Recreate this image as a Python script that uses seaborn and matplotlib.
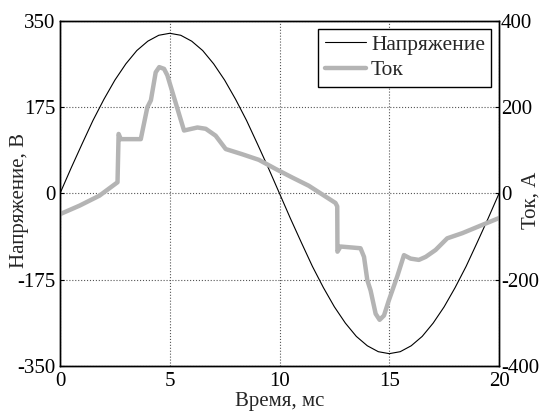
import matplotlib
matplotlib.use("Agg")
import matplotlib.pyplot as plt
import pandas as pd
import seaborn as sns

# Напряжение сети, отсчёты через 0.5 мс
t_voltage = [i * 0.5 for i in range(41)]
voltage = [0, 51, 100, 148, 191, 230, 263, 290, 309, 321,
           325, 321, 309, 290, 263, 230, 191, 148, 100, 51,
           0, -51, -100, -148, -191, -230, -263, -290, -309, -321,
           -325, -321, -309, -290, -263, -230, -191, -148, -100, -51, 0]

# Ток
t_current = [0, 0.9, 1.8, 2.62, 2.67, 2.77, 3.68, 3.98, 4.14, 4.36, 4.52,
             4.74, 4.89, 5.65, 6.26, 6.64, 7.09, 7.55, 8.30, 9.06, 9.82,
             10.58, 11.33, 12.55, 12.63, 12.64, 12.78, 13.69, 13.85, 14.0,
             14.15, 14.38, 14.56, 14.76, 14.98, 15.36, 15.67, 15.97, 16.35,
             16.66, 17.11, 17.64, 18.33, 19.09, 20.0]
current = [-48, -28, -5, 26, 138, 126, 126, 200, 216, 281, 293,
           289, 274, 146, 153, 150, 134, 103, 91, 78, 57,
           37, 18, -22, -30, -135, -123, -127, -147, -201,
           -225, -279, -293, -283, -248, -193, -143, -151, -154,
           -147, -131, -104, -92, -76, -57]

x_ticks = [0, 5, 10, 15, 20]
v_ticks = [-350, -175, 0, 175, 350]
i_ticks = [-400, -200, 0, 200, 400]

sns.set_style("white")
plt.rcParams["font.family"] = ["Liberation Serif", "DejaVu Serif"]
plt.rcParams["font.size"] = 15
plt.rcParams["axes.unicode_minus"] = False

df_v = pd.DataFrame({"t": t_voltage, "u": voltage})
df_i = pd.DataFrame({"t": t_current, "i": current})

fig = plt.figure(figsize=(5.44, 4.12), dpi=100)
ax = fig.add_axes([0.1103, 0.1117, 0.807, 0.8374])
ax2 = ax.twinx()

sns.lineplot(data=df_v, x="t", y="u", ax=ax, color="black", linewidth=0.8,
             label="Напряжение", legend=False)
sns.lineplot(data=df_i, x="t", y="i", ax=ax2, color="#b4b4b4", linewidth=3.2,
             label="Ток", legend=False)

ax.set_xlim(0, 20)
ax.set_ylim(-350, 350)
ax2.set_ylim(-400, 400)
ax.set_xticks(x_ticks)
ax.set_yticks(v_ticks)
ax2.set_yticks(i_ticks)
ax.grid(True, color="#555555", linestyle=":", linewidth=0.8)
for a in (ax, ax2):
    a.tick_params(direction="in", length=3, colors="black")
    for s in a.spines.values():
        s.set_color("black")
        s.set_linewidth(1.0)
ax.tick_params(axis="x", pad=4.5)
ax.tick_params(axis="y", pad=3.5)
ax2.tick_params(axis="y", pad=1.5)

ax.set_xlabel("Время, мс")
ax.set_ylabel("Напряжение, В")
ax2.set_ylabel("Ток, А")
ax.xaxis.set_label_coords(0.5, -0.075)
ax.yaxis.set_label_coords(-0.071, 0.48)
ax2.yaxis.set_label_coords(1.052, 0.48)

h1, l1 = ax.get_legend_handles_labels()
h2, l2 = ax2.get_legend_handles_labels()
ax2.legend(h1 + h2, l1 + l2, loc="upper right", frameon=True, fancybox=False,
           edgecolor="black", framealpha=1, borderaxespad=0.35, fontsize=15.5,
           handlelength=1.9, handletextpad=0.25, borderpad=0.3, labelspacing=0.25)

fig.savefig("out.png", dpi=100)
